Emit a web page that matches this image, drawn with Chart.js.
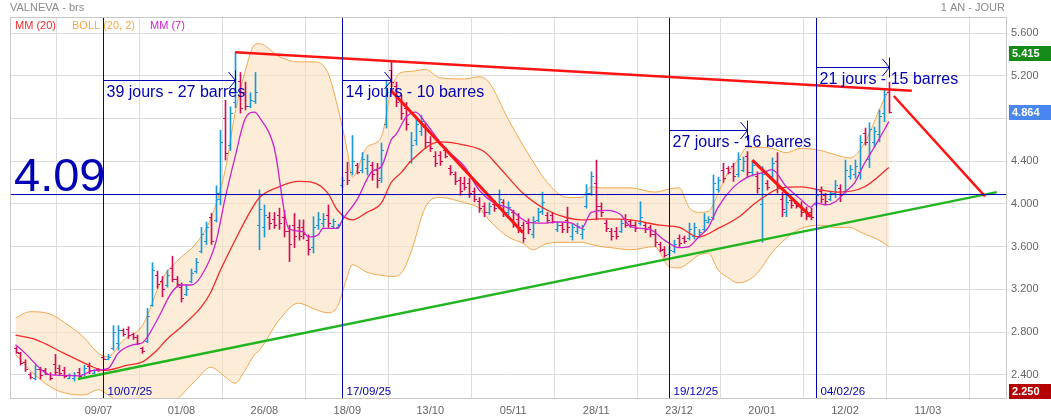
<!DOCTYPE html>
<html>
<head>
<meta charset="utf-8">
<script src="https://cdn.jsdelivr.net/npm/chart.js@4/dist/chart.umd.min.js"></script>
<style>
  body { margin: 0; background: #fff; }
</style>
</head>
<body>
<canvas id="chart" width="1051" height="420"></canvas>
<script>
// bar index 0 = 16/06/25, one bar per trading day
const xTickIdx = [17, 34, 51, 68, 85, 102, 119, 136, 153, 170, 187];
const xTickLabels = ['09/07', '01/08', '26/08', '18/09', '13/10', '05/11', '28/11', '23/12', '20/01', '12/02', '11/03'];
const yTicks = [2.4, 2.8, 3.2, 3.6, 4.0, 4.4, 4.8, 5.2, 5.6];

const opens = [
  2.65,2.60,2.52,2.41,2.37,2.45,2.44,2.41,2.50,2.46,
  2.44,2.37,2.37,2.43,2.41,2.48,2.42,2.45,2.57,2.55,
  2.65,2.70,2.82,2.83,2.78,2.75,2.65,2.72,3.05,3.33,
  3.28,3.24,3.40,3.30,3.22,3.16,3.28,3.37,3.56,3.65,
  3.88,3.85,4.05,4.80,4.55,4.95,5.15,5.05,4.92,4.96,
  3.80,3.78,3.88,3.86,3.90,3.88,3.75,3.80,3.78,3.78,
  3.66,3.60,3.80,3.82,3.90,3.79,3.78,4.18,4.30,4.30,
  4.36,4.32,4.34,4.36,4.32,4.24,4.75,5.25,5.10,4.98,
  4.90,4.40,4.60,4.68,4.72,4.58,4.45,4.46,4.50,4.34,
  4.28,4.22,4.20,4.20,4.12,4.03,3.98,3.92,4.00,3.98,
  4.02,3.92,3.92,3.86,3.80,3.82,3.72,3.85,3.93,3.90,
  3.90,3.76,3.80,3.85,3.70,3.75,3.72,3.98,4.10,4.20,
  3.98,3.82,3.75,3.75,3.75,3.86,3.84,3.80,3.82,3.80,
  3.78,3.72,3.62,3.58,3.53,3.56,3.68,3.68,3.68,3.70,
  3.70,3.76,3.83,3.88,4.14,4.32,4.34,4.35,4.28,4.32,
  4.45,4.30,4.26,4.00,4.20,4.26,4.40,4.05,3.92,4.04,
  4.01,3.98,3.94,3.92,4.00,4.12,4.08,4.05,4.10,4.15,
  4.12,4.26,4.28,4.30,4.66,4.42,4.58,4.65,4.85,5.05
];
const highs = [
  2.66,2.61,2.54,2.42,2.49,2.47,2.46,2.42,2.59,2.49,
  2.47,2.41,2.42,2.46,2.49,2.51,2.45,2.46,2.57,2.59,
  2.86,2.86,2.83,2.85,2.79,2.77,2.66,3.02,3.45,3.37,
  3.32,3.38,3.51,3.32,3.26,3.24,3.39,3.49,3.78,3.83,
  3.91,4.17,4.69,4.97,4.91,5.42,5.23,5.14,5.04,5.23,
  4.13,3.99,3.92,3.92,3.96,3.94,3.80,3.91,3.85,3.85,
  3.71,3.88,3.92,3.91,3.99,3.86,3.81,4.25,4.39,4.64,
  4.38,4.48,4.46,4.39,4.38,4.57,5.16,5.33,5.14,5.02,
  4.95,4.67,4.81,4.83,4.76,4.63,4.49,4.49,4.53,4.36,
  4.30,4.25,4.25,4.24,4.15,4.06,4.01,4.01,4.03,4.13,
  4.04,4.02,3.94,3.91,3.83,3.86,3.88,3.96,4.11,3.92,
  3.92,3.83,3.82,3.97,3.82,3.82,3.80,4.18,4.30,4.41,
  4.01,3.85,3.77,3.78,3.85,3.90,3.85,3.83,4.02,3.82,
  3.80,3.76,3.64,3.60,3.60,3.66,3.71,3.70,3.82,3.82,
  3.76,3.91,3.88,4.27,4.25,4.38,4.35,4.38,4.48,4.44,
  4.49,4.40,4.30,4.35,4.22,4.43,4.48,4.11,4.08,4.06,
  4.02,4.02,3.97,3.96,4.13,4.16,4.10,4.12,4.22,4.18,
  4.41,4.36,4.41,4.64,4.71,4.76,4.72,4.88,5.07,5.14
];
const lows = [
  2.60,2.49,2.43,2.36,2.35,2.36,2.40,2.35,2.40,2.39,
  2.37,2.36,2.34,2.37,2.39,2.41,2.41,2.43,2.55,2.54,
  2.63,2.63,2.76,2.74,2.73,2.68,2.60,2.70,3.04,3.21,
  3.13,3.22,3.27,3.22,3.08,3.14,3.26,3.35,3.54,3.62,
  3.62,3.83,3.99,4.41,4.50,4.90,4.85,4.88,4.90,4.94,
  3.57,3.69,3.76,3.77,3.76,3.69,3.46,3.59,3.66,3.67,
  3.52,3.54,3.76,3.78,3.78,3.77,3.77,4.15,4.18,4.27,
  4.28,4.29,4.27,4.22,4.15,4.20,4.71,5.10,4.91,4.79,
  4.69,4.38,4.55,4.64,4.52,4.49,4.35,4.36,4.43,4.27,
  4.18,4.08,4.13,4.06,4.02,3.92,3.88,3.90,3.93,3.96,
  3.88,3.90,3.78,3.73,3.64,3.72,3.68,3.83,3.90,3.82,
  3.82,3.74,3.73,3.73,3.66,3.72,3.67,3.96,4.08,3.85,
  3.88,3.74,3.66,3.67,3.73,3.78,3.78,3.74,3.80,3.73,
  3.69,3.60,3.55,3.50,3.52,3.54,3.60,3.63,3.66,3.67,
  3.68,3.74,3.82,3.85,4.11,4.20,4.28,4.21,4.25,4.30,
  4.25,4.26,4.10,3.64,4.13,4.22,4.10,3.88,3.88,3.96,
  3.96,3.88,3.85,3.85,3.98,4.01,3.99,4.03,4.06,4.02,
  4.10,4.23,4.24,4.23,4.55,4.34,4.53,4.58,4.77,4.85
];
const closes = [
  2.61,2.51,2.45,2.38,2.45,2.40,2.41,2.37,2.43,2.42,
  2.39,2.40,2.40,2.39,2.46,2.44,2.44,2.44,2.55,2.57,
  2.80,2.82,2.78,2.77,2.75,2.70,2.62,2.95,3.38,3.25,
  3.20,3.33,3.30,3.25,3.12,3.20,3.35,3.46,3.72,3.78,
  3.65,4.10,4.58,4.48,4.85,5.05,4.90,4.92,4.97,5.05,
  3.95,3.90,3.82,3.80,3.82,3.75,3.62,3.70,3.70,3.72,
  3.58,3.78,3.86,3.86,3.82,3.84,3.80,4.22,4.22,4.40,
  4.30,4.42,4.40,4.28,4.22,4.50,5.05,5.14,4.95,4.85,
  4.75,4.55,4.75,4.78,4.58,4.52,4.38,4.40,4.45,4.30,
  4.21,4.12,4.16,4.10,4.05,3.96,3.92,3.98,3.96,4.05,
  3.92,3.97,3.82,3.78,3.68,3.76,3.84,3.92,4.02,3.85,
  3.84,3.80,3.76,3.78,3.78,3.79,3.76,4.10,4.26,3.98,
  3.92,3.77,3.70,3.70,3.82,3.80,3.80,3.77,3.88,3.76,
  3.72,3.64,3.57,3.52,3.57,3.62,3.63,3.65,3.76,3.78,
  3.74,3.85,3.86,4.20,4.22,4.24,4.30,4.26,4.42,4.40,
  4.30,4.36,4.15,4.28,4.16,4.38,4.15,3.95,4.02,3.99,
  3.98,3.92,3.89,3.88,4.08,4.05,4.03,4.10,4.18,4.08,
  4.32,4.33,4.35,4.58,4.58,4.70,4.68,4.82,5.03,4.864
];

// indicators at sample bars
const bollIdx = [0,3,7,10,14,17,19,22,26,30,33,37,40,43,45,47,49,50,54,58,61,64,66,68,69,72,75,77,79,81,
  84,87,92,95,97,101,104,106,109,113,116,118,120,122,126,131,134,136,138,140,142,144,146,148,150,152,155,158,161,165,
  168,171,173,175,177,179];
const bollUpper = [2.93,2.99,2.97,2.89,2.75,2.60,2.57,2.72,2.86,3.29,3.46,3.63,3.86,4.32,4.85,5.23,5.49,5.50,5.38,5.33,
  5.33,5.23,4.91,4.50,4.25,4.53,4.63,5.07,5.23,5.24,5.26,5.18,5.17,5.19,5.14,4.79,4.55,4.40,4.20,4.06,
  4.06,4.16,4.15,4.15,4.15,4.11,4.14,4.15,3.97,3.92,3.93,4.10,4.29,4.41,4.53,4.53,4.52,4.48,4.52,4.50,
  4.46,4.43,4.50,4.66,4.88,5.07];
const bollLower = [2.59,2.44,2.29,2.23,2.21,2.26,2.21,2.12,2.02,2.02,2.16,2.35,2.47,2.38,2.32,2.44,2.59,2.63,2.91,3.07,
  3.02,2.98,3.04,3.32,3.43,3.36,3.33,3.32,3.35,3.54,3.97,4.06,4.01,3.96,3.85,3.69,3.63,3.57,3.63,3.64,
  3.64,3.62,3.60,3.59,3.57,3.60,3.41,3.40,3.45,3.52,3.54,3.38,3.31,3.26,3.28,3.35,3.54,3.68,3.77,3.80,
  3.78,3.78,3.74,3.70,3.66,3.60];

const mm20Idx = [0,4,10,16,18,23,26,29,31,34,38,40,42,45,48,50,54,58,61,64,66,69,72,75,77,79,81,87,92,96,
  99,104,109,113,116,120,126,132,136,140,144,148,152,157,161,165,169,174,179];
const mm20Val = [2.77,2.73,2.60,2.47,2.44,2.49,2.52,2.63,2.73,2.85,3.03,3.17,3.38,3.66,3.92,4.06,4.16,4.21,4.20,4.10,
  3.94,3.85,3.92,4.01,4.20,4.29,4.40,4.58,4.55,4.49,4.35,4.10,3.94,3.87,3.85,3.86,3.85,3.80,3.78,3.69,
  3.77,3.87,4.02,4.15,4.16,4.13,4.11,4.16,4.34];

const mm7Idx = [0,2,5,7,13,16,19,21,24,26,29,32,34,36,38,41,43,45,47,49,50,53,56,59,60,62,63,66,67,70,
  73,75,77,78,80,82,84,87,89,92,95,98,101,105,108,111,114,116,118,121,124,126,130,133,136,138,140,142,144,147,
  150,153,155,158,161,163,164,166,168,170,172,174,176,179];
const mm7Val = [2.68,2.60,2.46,2.40,2.39,2.44,2.46,2.60,2.68,2.70,2.91,3.17,3.24,3.24,3.32,3.63,4.06,4.44,4.79,4.86,
  4.81,4.53,3.77,3.74,3.69,3.71,3.77,3.77,3.85,4.04,4.30,4.35,4.60,4.65,4.81,4.86,4.76,4.58,4.48,4.35,
  4.13,4.01,3.96,3.83,3.82,3.83,3.82,3.77,3.92,3.94,3.90,3.79,3.76,3.66,3.59,3.60,3.69,3.78,3.97,4.15,
  4.25,4.29,4.32,4.16,4.04,3.97,4.01,3.99,4.02,4.11,4.20,4.38,4.53,4.77];

// drawn trend lines [bar, price]
const resistanceLine = [[45, 5.42], [183.7, 5.06]];
const projectionLine = [[180, 5.01], [198.7, 4.07]];
const supportLine = [[12.8, 2.36], [201.1, 4.11]];
const downLine1 = [[77, 5.06], [104, 3.73]];
const downLine2 = [[151, 4.41], [163, 3.88]];
const refLevel = 4.09;

// time cycles
const cycleStart = [18, 67, 134, 164];
const cycleEnd = [45, 77, 150, 179];
const cycleLevel = [5.16, 5.16, 4.69, 5.285];
const cycleText = ['39 jours - 27 barres', '14 jours - 10 barres', '27 jours - 16 barres', '21 jours - 15 barres'];
const cycleDate = ['10/07/25', '17/09/25', '19/12/25', '04/02/26'];

const priceTags = [
  { value: 5.415, color: '#168a16' },
  { value: 4.864, color: '#4a86f0' },
  { value: 2.250, color: '#b40000' }
];

const UP = '#1a9ad8', DOWN = '#d2105a';
const BLUE = '#0000b4';
const FONT = '"Liberation Sans", Arial, sans-serif';

const pts = (idx, vals) => idx.map((x, k) => ({ x: x, y: vals[k] }));
const seg = (a) => a.map(p => ({ x: p[0], y: p[1] }));

function lineDs(data, color, width, order, extra) {
    return Object.assign({
        type: 'line', data: data, borderColor: color, borderWidth: width,
        pointRadius: 0, fill: false, order: order
    }, extra || {});
}

const datasets = [
    lineDs(pts(bollIdx, bollUpper), '#f6a850', 1, 30, { fill: '+1', backgroundColor: 'rgba(252,225,190,0.6)', cubicInterpolationMode: 'monotone' }),
    lineDs(pts(bollIdx, bollLower), '#f6a850', 1, 29, { cubicInterpolationMode: 'monotone' }),
    {
        type: 'bar', order: 20, grouped: false, barThickness: 1, borderWidth: 0,
        data: highs.map((h, i) => ({ x: i, y: [lows[i], h] })),
        backgroundColor: closes.map((c, i) => c >= opens[i] ? UP : DOWN)
    },
    lineDs(pts(mm20Idx, mm20Val), '#f52a2a', 1.3, 10, { cubicInterpolationMode: 'monotone' }),
    lineDs(pts(mm7Idx, mm7Val), '#cc22cc', 1.3, 9, { cubicInterpolationMode: 'monotone' }),
    lineDs(seg(supportLine), '#22b522', 2.5, 5),
    lineDs(seg(resistanceLine), '#ff1414', 2.5, 4),
    lineDs(seg(projectionLine), '#ff1414', 2.5, 4),
    lineDs(seg(downLine1), '#ff1414', 3, 4),
    lineDs(seg(downLine2), '#ff1414', 3, 4),
    lineDs([{ x: -5, y: refLevel }, { x: 210, y: refLevel }], BLUE, 1, 3, { crisp: 'h' })
];
cycleStart.forEach(i => datasets.push(lineDs([{ x: i, y: 1 }, { x: i, y: 7 }], BLUE, 1, 3, { crisp: 'v' })));

const barDsIndex = 2;

const overlay = {
    id: 'overlay',
    beforeDraw(chart) {
        const ctx = chart.ctx;
        ctx.save();
        ctx.fillStyle = '#fff';
        ctx.fillRect(0, 0, chart.width, chart.height);
        ctx.restore();
    },
    // snap thin marks to the pixel grid so they render crisp
    afterDatasetsUpdate(chart) {
        chart.data.datasets.forEach((ds, k) => {
            const meta = chart.getDatasetMeta(k);
            if (k === barDsIndex) {
                meta.data.forEach(el => { el.x = Math.round(el.x) + 0.5; });
            } else if (ds.crisp === 'v') {
                meta.data.forEach(el => { el.x = Math.round(el.x) + 0.5; });
            } else if (ds.crisp === 'h') {
                meta.data.forEach(el => { el.y = Math.round(el.y) + 0.5; });
            }
        });
    },
    afterDatasetDraw(chart, args) {
        if (args.index !== barDsIndex) return;
        const ctx = chart.ctx, ys = chart.scales.y;
        ctx.save();
        ctx.lineWidth = 1;
        args.meta.data.forEach((el, i) => {
            const x = el.x, o = opens[i];
            ctx.strokeStyle = closes[i] >= o ? UP : DOWN;
            const yo = Math.round(ys.getPixelForValue(o)) + 0.5;
            const yc = Math.round(ys.getPixelForValue(closes[i])) + 0.5;
            ctx.beginPath();
            ctx.moveTo(x - 2.5, yo); ctx.lineTo(x, yo);
            ctx.moveTo(x, yc); ctx.lineTo(x + 2.5, yc);
            ctx.stroke();
        });
        ctx.restore();
    },
    afterDatasetsDraw(chart) {
        const ctx = chart.ctx, xs = chart.scales.x, ys = chart.scales.y, a = chart.chartArea;
        ctx.save();
        // frame
        ctx.strokeStyle = '#c8c8c8';
        ctx.lineWidth = 1;
        ctx.strokeRect(a.left + 0.5, a.top + 0.5, a.right - a.left - 1, a.bottom - a.top);

        // cycle arrows and labels
        ctx.strokeStyle = BLUE;
        ctx.fillStyle = BLUE;
        ctx.lineWidth = 1;
        cycleStart.forEach((s, k) => {
            const x0 = Math.round(xs.getPixelForValue(s)) + 0.5;
            const x1 = Math.round(xs.getPixelForValue(cycleEnd[k])) + 0.5;
            const y = Math.round(ys.getPixelForValue(cycleLevel[k])) + 0.5;
            ctx.beginPath();
            ctx.moveTo(x0, y); ctx.lineTo(x1, y);
            ctx.moveTo(x1 - 7, y - 8.5); ctx.lineTo(x1, y); ctx.lineTo(x1 - 7, y + 8.5);
            ctx.moveTo(x1, y - 10); ctx.lineTo(x1, y + 10);
            ctx.stroke();
            ctx.font = '16px ' + FONT;
            ctx.textBaseline = 'middle';
            ctx.textAlign = 'left';
            ctx.fillText(cycleText[k], x0 + 3, y + 12);
            ctx.font = '11.5px ' + FONT;
            ctx.textBaseline = 'alphabetic';
            ctx.fillText(cycleDate[k], x0 + 4, a.bottom - 3);
        });

        // reference level
        ctx.font = '47px ' + FONT;
        ctx.textBaseline = 'alphabetic';
        ctx.fillText(refLevel.toFixed(2), a.left + 4, ys.getPixelForValue(refLevel) - 3);

        // indicator legend
        ctx.font = '11px ' + FONT;
        ctx.textBaseline = 'middle';
        ctx.fillStyle = '#f52a2a'; ctx.fillText('MM (20)', 15, 26);
        ctx.fillStyle = '#f6a850'; ctx.fillText('BOLL (20, 2)', 72, 26);
        ctx.fillStyle = '#cc22cc'; ctx.fillText('MM (7)', 150, 26);

        // header
        ctx.fillStyle = '#8a8a8a';
        ctx.fillText('VALNEVA - brs', 10, 8);
        ctx.textAlign = 'right';
        ctx.fillText('1 AN - JOUR', 1005, 8);

        // price tags on the axis
        ctx.textAlign = 'left';
        ctx.font = 'bold 11px ' + FONT;
        priceTags.forEach(t => {
            const y = Math.round(ys.getPixelForValue(t.value));
            ctx.fillStyle = t.color;
            ctx.fillRect(a.right + 2, y - 7, chart.width - a.right - 2, 15);
            ctx.fillStyle = '#fff';
            ctx.fillText(t.value.toFixed(3), a.right + 5, y + 0.5);
        });
        ctx.restore();
    }
};

new Chart(document.getElementById('chart'), {
    type: 'line',
    data: { datasets: datasets },
    options: {
        responsive: false,
        animation: false,
        devicePixelRatio: 1,
        layout: { padding: { left: 10, top: 17, right: 0, bottom: 0 } },
        plugins: { legend: { display: false }, tooltip: { enabled: false } },
        scales: {
            x: {
                type: 'linear', min: -1.13, max: 203.2, offset: false,
                afterBuildTicks: s => { s.ticks = xTickIdx.map(v => ({ value: v })); },
                afterFit: s => { s.height = 22; },
                ticks: {
                    autoSkip: false, maxRotation: 0, padding: 6,
                    color: '#666', font: { family: FONT, size: 11 },
                    callback: v => xTickLabels[xTickIdx.indexOf(v)] || ''
                },
                grid: { color: '#dcdcdc', drawTicks: false },
                border: { display: false }
            },
            y: {
                type: 'linear', position: 'right', min: 2.182, max: 5.75,
                afterBuildTicks: s => { s.ticks = yTicks.map(v => ({ value: v })); },
                afterFit: s => { s.width = 44; },
                ticks: {
                    padding: 4, color: '#666', font: { family: FONT, size: 11 },
                    callback: v => (Math.abs(v - 4.8) < 1e-6 ? '' : v.toFixed(3))
                },
                grid: { color: '#dcdcdc', drawTicks: false },
                border: { display: false }
            }
        }
    },
    plugins: [overlay]
});
</script>
</body>
</html>
